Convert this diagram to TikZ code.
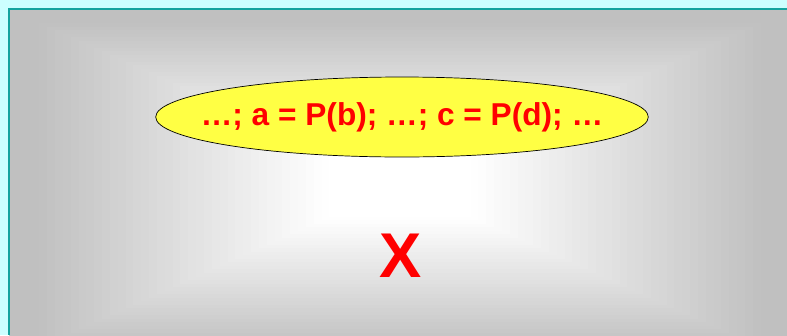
\documentclass[tikz,border=0pt]{standalone}
\usepackage{fontspec}
\setmainfont{Liberation Sans}
\usetikzlibrary{shapes.geometric}

\definecolor{pagecyan}{HTML}{CCFFFF}
\definecolor{frameteal}{HTML}{14A39E}
\definecolor{boxgray}{HTML}{C0C0C0}
\definecolor{callyellow}{HTML}{FFFF44}

\begin{document}
\begin{tikzpicture}[x=0.02cm, y=-0.02cm,
  call/.style={ellipse, draw=black, thin, fill=callyellow, inner xsep=-0.54cm,
    inner ysep=0pt, minimum width=9.84cm, minimum height=1.6cm, text=red,
    font=\bfseries\fontsize{18}{20}\selectfont},
  mark x/.style={text=red, font=\bfseries\fontsize{36}{40}\selectfont}]
\useasboundingbox (0,0) rectangle (787,335);
\fill[pagecyan] (0,0) rectangle (787,335);
% grey panel, runs off the right and bottom edges
\begin{scope}
  \clip (9,9) rectangle (787,335);
  \foreach \k in {0,...,50}{
    \pgfmathsetmacro{\f}{1-\k/50}
    \pgfmathtruncatemacro{\p}{min(100,max(0,\k*2.7-8))}
    \fill[white!\p!boxgray] (400-392*\f,185-176*\f) rectangle (400+392*\f,185+176*\f);
  }
\end{scope}
\draw[frameteal, line width=1.2pt] (787,9) -- (9,9) -- (9,335);
\node[call] (calls) at (402,117) {…; a = P(b); …; c = P(d); …};
\node[mark x] (cross) at (401,256) {X};
\end{tikzpicture}
\end{document}
